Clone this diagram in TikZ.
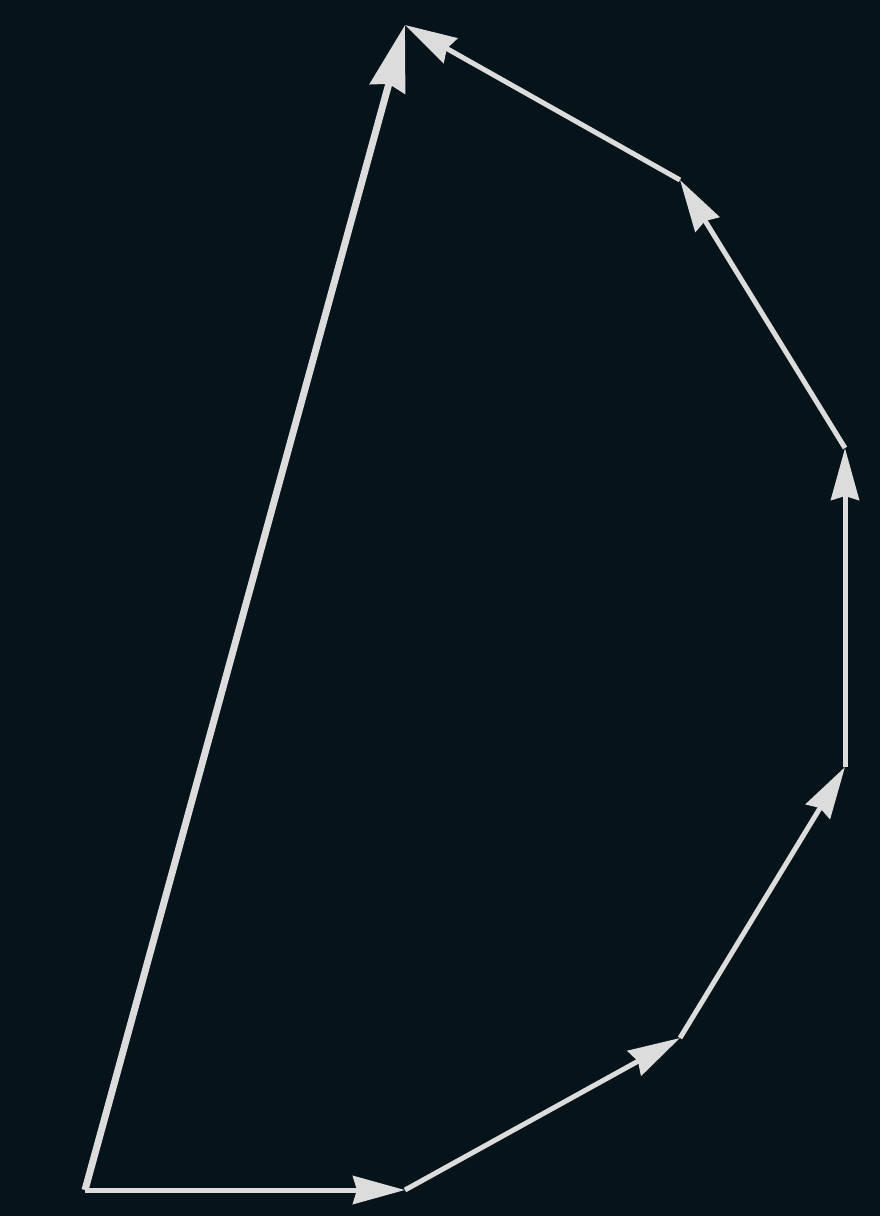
\documentclass[tikz,border=0pt]{standalone}
\usetikzlibrary{arrows.meta}
\definecolor{bg}{HTML}{04141A}
\definecolor{vec}{HTML}{DCDCDC}
\begin{document}
\begin{tikzpicture}[x=0.5pt,y=-0.5pt,
  vecarrow/.style={draw=vec,line width=2.5pt,-{Stealth[length=26pt,width=14pt,inset=2pt]}},
  sumarrow/.style={draw=vec,line width=3.5pt,-{Stealth[length=33pt,width=18pt,inset=2.5pt]}}]
\fill[bg] (0,0) rectangle (880,1216);
\useasboundingbox (0,0) rectangle (880,1216);
\coordinate (A) at (85,1190);
\coordinate (B) at (405,1190);
\coordinate (C) at (680,1038);
\coordinate (D) at (845,767);
\coordinate (E) at (845,448);
\coordinate (F) at (680,180);
\coordinate (G) at (405,25);
\draw[vecarrow] (A) -- (B);
\draw[vecarrow] (B) -- (C);
\draw[vecarrow] (C) -- (D);
\draw[vecarrow] (D) -- (E);
\draw[vecarrow] (E) -- (F);
\draw[vecarrow] (F) -- (G);
\draw[sumarrow] (A) -- (G);
\end{tikzpicture}
\end{document}
